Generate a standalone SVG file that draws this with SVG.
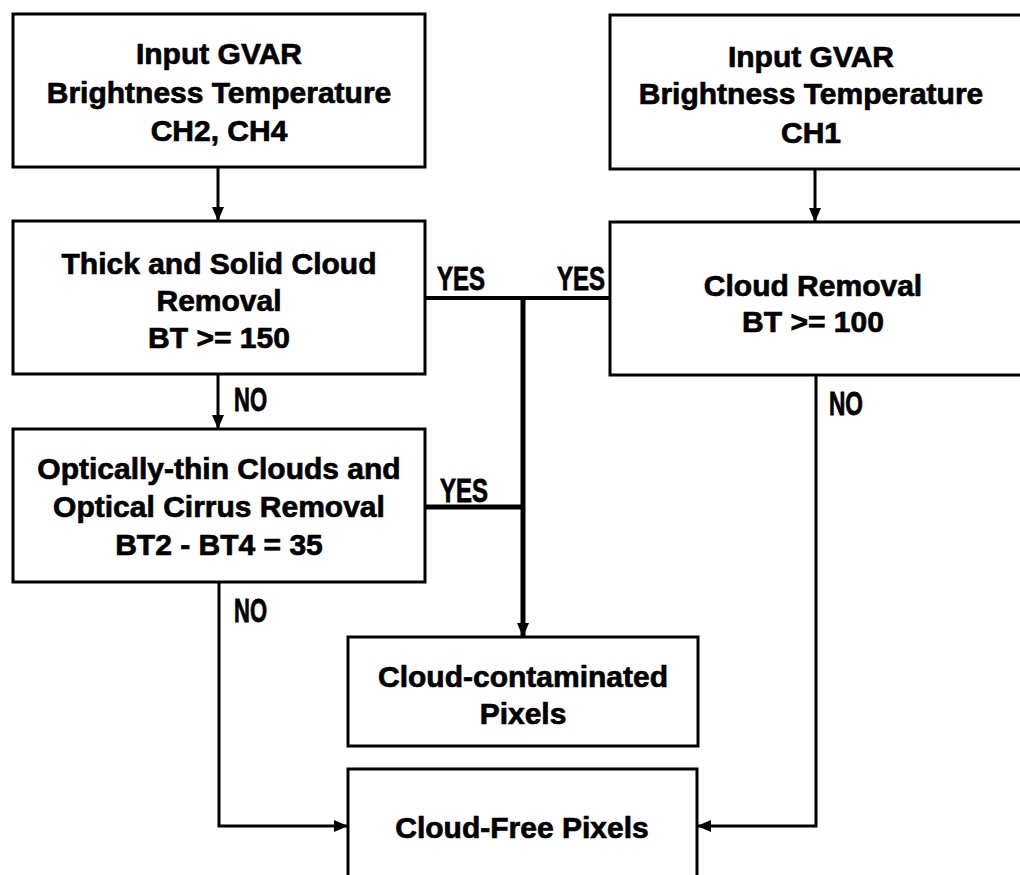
<svg xmlns="http://www.w3.org/2000/svg" width="1020" height="875" viewBox="0 0 1020 875">
<style>
.box{fill:#fff;stroke:#000;stroke-width:3}
.t{font-family:"Liberation Sans",Arial,sans-serif;font-weight:bold;font-size:30px;text-anchor:middle;fill:#000;stroke:#000;stroke-width:0.7}
.lbl{font-family:"Liberation Sans",Arial,sans-serif;font-weight:bold;font-size:33px;fill:#000;stroke:#000;stroke-width:0.8}
.c{fill:none;stroke:#000;stroke-width:3}
.ct{fill:none;stroke:#000;stroke-width:5}
</style>
<defs>
<marker id="ah" markerUnits="userSpaceOnUse" markerWidth="14" markerHeight="14" viewBox="0 0 14 14" refX="14" refY="7" orient="auto">
<path d="M0,1 L14,7 L0,13 z" fill="#000"/>
</marker>
</defs>
<rect width="1020" height="875" fill="#fff"/>
<g id="connectors">
<line class="c" x1="218" y1="167" x2="218" y2="221" marker-end="url(#ah)"/>
<line class="c" x1="218" y1="374" x2="218" y2="429" marker-end="url(#ah)"/>
<line class="c" x1="815" y1="169" x2="815" y2="222" marker-end="url(#ah)"/>
<line class="ct" x1="425" y1="298" x2="610" y2="298" style="stroke-width:4"/>
<line class="ct" x1="523" y1="296" x2="523" y2="637" marker-end="url(#ah)"/>
<line class="ct" x1="425" y1="507" x2="525" y2="507"/>
<polyline class="c" points="219,582 219,826 348,826" marker-end="url(#ah)"/>
<polyline class="c" points="816,375 816,826 697,826" marker-end="url(#ah)"/>
<text class="lbl" x="437" y="290" textLength="48" lengthAdjust="spacingAndGlyphs">YES</text>
<text class="lbl" x="557" y="290" textLength="48" lengthAdjust="spacingAndGlyphs">YES</text>
<text class="lbl" x="440" y="502" textLength="48" lengthAdjust="spacingAndGlyphs">YES</text>
<text class="lbl" x="234" y="411" textLength="33" lengthAdjust="spacingAndGlyphs">NO</text>
<text class="lbl" x="234" y="622" textLength="33" lengthAdjust="spacingAndGlyphs">NO</text>
<text class="lbl" x="829" y="415" textLength="34" lengthAdjust="spacingAndGlyphs">NO</text>
</g>
<g id="input-ch24">
<rect class="box" x="13" y="14" width="412" height="153"/>
<text class="t" x="219" y="64">Input GVAR</text>
<text class="t" x="219" y="103">Brightness Temperature</text>
<text class="t" x="219" y="141">CH2, CH4</text>
</g>
<g id="input-ch1">
<rect class="box" x="610" y="15" width="430" height="154"/>
<text class="t" x="811" y="67">Input GVAR</text>
<text class="t" x="811" y="104">Brightness Temperature</text>
<text class="t" x="811" y="143">CH1</text>
</g>
<g id="thick-cloud">
<rect class="box" x="13" y="221" width="412" height="153"/>
<text class="t" x="219" y="274">Thick and Solid Cloud</text>
<text class="t" x="219" y="311">Removal</text>
<text class="t" x="219" y="348">BT &gt;= 150</text>
</g>
<g id="cloud-removal">
<rect class="box" x="610" y="222" width="430" height="153"/>
<text class="t" x="813" y="296">Cloud Removal</text>
<text class="t" x="813" y="332">BT &gt;= 100</text>
</g>
<g id="thin-cloud">
<rect class="box" x="13" y="429" width="412" height="153"/>
<text class="t" x="219" y="479">Optically-thin Clouds and</text>
<text class="t" x="219" y="517">Optical Cirrus Removal</text>
<text class="t" x="219" y="555">BT2 - BT4 = 35</text>
</g>
<g id="contaminated">
<rect class="box" x="348" y="637" width="350" height="109"/>
<text class="t" x="523" y="687">Cloud-contaminated</text>
<text class="t" x="523" y="724">Pixels</text>
</g>
<g id="cloud-free">
<rect class="box" x="348" y="769" width="349" height="130"/>
<text class="t" x="522" y="838">Cloud-Free Pixels</text>
</g>
</svg>
